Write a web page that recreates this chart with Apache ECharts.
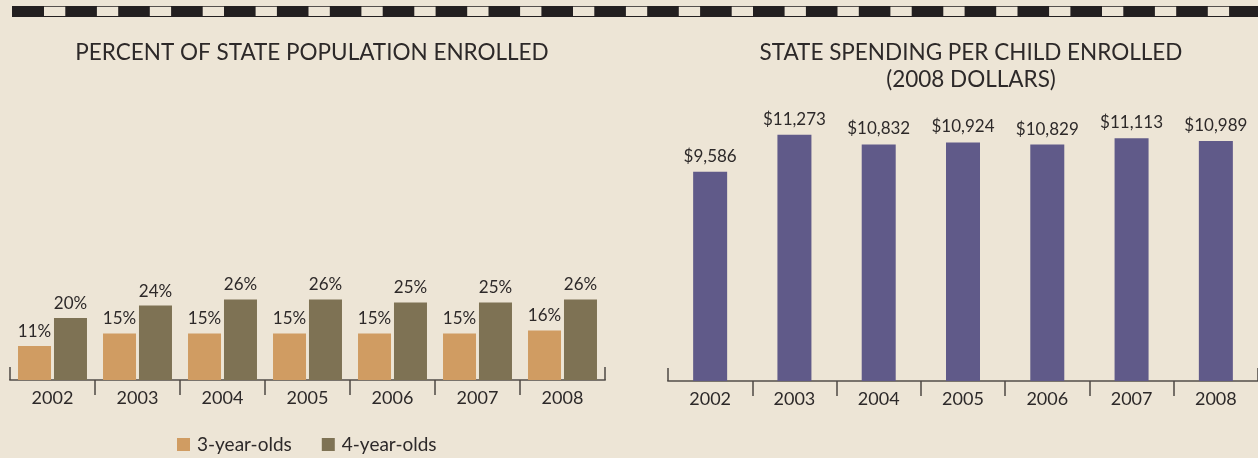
<!DOCTYPE html>
<html>
<head>
<meta charset="utf-8">
<script src="https://cdn.jsdelivr.net/npm/echarts@6/dist/echarts.min.js"></script>
<style>
html,body{margin:0;padding:0;background:#ede5d6;}
#main{width:1258px;height:458px;}
</style>
</head>
<body>
<div id="main"></div>
<script>
var years = ['2002', '2003', '2004', '2005', '2006', '2007', '2008'];
var threeYearOlds = [11, 15, 15, 15, 15, 15, 16];
var fourYearOlds = [20, 24, 26, 26, 25, 25, 26];
var spending = [9586, 11273, 10832, 10924, 10829, 11113, 10989];
// tick positions on the band axis (category boundaries)
var separators = [1, 2, 3, 4, 5, 6];
var axisEnds = [0, 7];

var font = 'Lato';
var ink = '#2d2929';

var myChart = echarts.init(document.getElementById('main'));

function bandAxis(grid, vals, inside, len) {
  return {
    type: 'value', gridIndex: grid, position: 'bottom', min: 0, max: 7,
    axisLine: { show: false }, axisLabel: { show: false }, splitLine: { show: false },
    axisTick: { show: true, inside: inside, length: len, customValues: vals,
      lineStyle: { color: '#4d4844', width: 1.5 } }
  };
}

function catAxis(grid) {
  return {
    type: 'category', gridIndex: grid, data: years,
    axisLine: { lineStyle: { color: '#79736c', width: 2 } },
    axisTick: { show: false },
    axisLabel: { color: ink, fontFamily: font, fontSize: 18, margin: 9 }
  };
}

var option = {
  backgroundColor: '#ede5d6',
  animation: false,
  textStyle: { fontFamily: font },
  graphic: [
    { type: 'rect', shape: { x: 12, y: 6, width: 1246, height: 11 }, style: { fill: '#231f20' } },
    { type: 'line', shape: { x1: 44, y1: 11.4, x2: 1258, y2: 11.4 },
      style: { stroke: '#ede5d6', lineWidth: 9.3, lineDash: [21.3, 31.6] } }
  ],
  title: [
    { text: 'PERCENT OF STATE POPULATION ENROLLED', left: 307, top: 36, textAlign: 'center',
      textStyle: { color: ink, fontFamily: font, fontSize: 22.5, fontWeight: 'normal' } },
    { text: 'STATE SPENDING PER CHILD ENROLLED\n(2008 DOLLARS)', left: 966, top: 34, textAlign: 'center',
      textStyle: { color: ink, fontFamily: font, fontSize: 22.5, fontWeight: 'normal', lineHeight: 27 } }
  ],
  legend: {
    data: ['3-year-olds', '4-year-olds'], left: 177, top: 435, padding: 0,
    icon: 'rect', itemWidth: 13, itemHeight: 13, itemGap: 30,
    textStyle: { color: ink, fontFamily: font, fontSize: 19, padding: [0, 0, 0, 2] }
  },
  grid: [
    { left: 10, width: 595, top: 287, height: 93 },
    { left: 668, width: 597, top: 119, height: 262 }
  ],
  xAxis: [
    catAxis(0), bandAxis(0, separators, false, 15), bandAxis(0, axisEnds, true, 13),
    catAxis(1), bandAxis(1, separators, false, 15), bandAxis(1, axisEnds, true, 13)
  ],
  yAxis: [
    { type: 'value', gridIndex: 0, min: 0, max: 30, show: false },
    { type: 'value', gridIndex: 1, min: 0, max: 12000, show: false }
  ],
  series: [
    {
      name: '3-year-olds', type: 'bar', xAxisIndex: 0, yAxisIndex: 0,
      data: threeYearOlds, barWidth: 33, barGap: '9%',
      itemStyle: { color: '#d09c62' },
      label: { show: true, position: 'top', distance: 6, formatter: '{c}%',
        color: ink, fontFamily: font, fontSize: 17 }
    },
    {
      name: '4-year-olds', type: 'bar', xAxisIndex: 0, yAxisIndex: 0,
      data: fourYearOlds, barWidth: 33, barGap: '9%',
      itemStyle: { color: '#7e7254' },
      label: { show: true, position: 'top', distance: 6, formatter: '{c}%',
        color: ink, fontFamily: font, fontSize: 17 }
    },
    {
      name: 'spending', type: 'bar', xAxisIndex: 3, yAxisIndex: 1,
      data: spending, barWidth: 34,
      itemStyle: { color: '#605a89' },
      label: { show: true, position: 'top', distance: 7,
        formatter: function (p) { return '$' + p.value.toLocaleString('en-US'); },
        color: ink, fontFamily: font, fontSize: 17 }
    }
  ]
};

option && myChart.setOption(option);
</script>
</body>
</html>
